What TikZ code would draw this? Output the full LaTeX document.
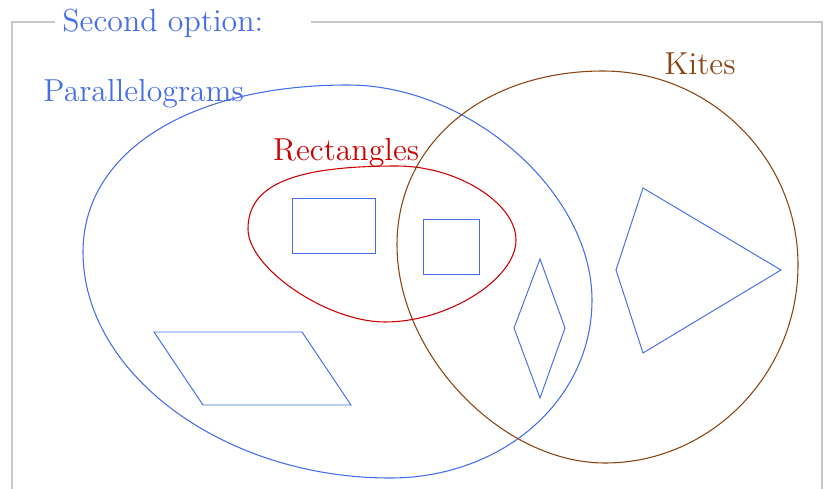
\documentclass[tikz,border=0pt]{standalone}
\usepackage{amsmath,amssymb}
\usepackage{tikz}
\usetikzlibrary{positioning}

\definecolor{setblue}{RGB}{70,110,235}
\definecolor{setred}{RGB}{205,0,0}
\definecolor{setbrown}{RGB}{139,69,19}
\definecolor{framegray}{RGB}{200,200,200}

\begin{document}
\begin{tikzpicture}[
  x=0.1635mm, y=-0.1635mm,
  lbl/.style={font=\fontsize{14.8}{18}\selectfont, anchor=base west, inner sep=0pt},
  setline/.style={line width=0.5pt},
  figline/.style={setblue, line width=0.45pt, line join=miter}
]
  \useasboundingbox (0,0) rectangle (830,489);

  % frame with the title in its top edge
  \draw[framegray, line width=0.6pt] (55,22) -- (12,22) -- (12,500);
  \draw[framegray, line width=0.6pt] (311,22) -- (822,22) -- (822,500);
  \node[lbl, text=setblue] (title) at (62,31.7) {Second option:};

  % the three sets
  \draw[setline, setblue] (83,252)
    .. controls +(0,-100) and +(-159,0) .. (348,85)
    .. controls +(122,0) and +(0,-107.5) .. (592,300)
    .. controls +(0,100) and +(113,0) .. (390,478)
    .. controls +(-166,0) and +(0,122) .. cycle;
  \draw[setline, setbrown] (603,71)
    .. controls +(107,0) and +(0,-107) .. (798,265)
    .. controls +(0,109) and +(106,0) .. (605,463)
    .. controls +(-104,0) and +(0,109) .. (397,245)
    .. controls +(0,-101) and +(-120,0) .. cycle;
  \draw[setline, setred] (248,229)
    .. controls +(0,-44) and +(-104,0) .. (397,166)
    .. controls +(60,0) and +(0,-37) .. (516,240)
    .. controls +(0,39) and +(63,0) .. (385,322)
    .. controls +(-58,0) and +(0,39) .. cycle;

  \node[lbl, text=setblue] (para) at (43,101.7) {Parallelograms};
  \node[lbl, text=setred] (rect) at (272.7,160.7) {Rectangles};
  \node[lbl, text=setbrown] (kites) at (664,74) {Kites};

  % the figures
  \draw[figline] (292,198) rectangle (375,253);
  \draw[figline] (423,219) rectangle (479,274);
  \draw[figline] (540,259) -- (565,328) -- (540,398) -- (514,328) -- cycle;
  \draw[figline] (643,188) -- (781,270) -- (643,353) -- (616,270) -- cycle;
  \draw[figline] (154,332) -- (302,332) -- (351,405) -- (203,405) -- cycle;
\end{tikzpicture}
\end{document}
